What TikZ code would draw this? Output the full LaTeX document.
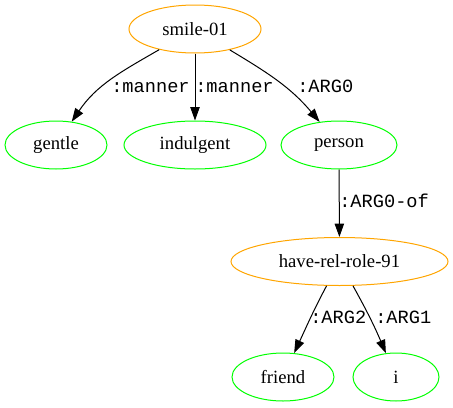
\documentclass[tikz,border=0pt]{standalone}
\usepackage{fontspec}
\setmainfont{Liberation Serif}
\setmonofont{Liberation Mono}
\usepackage{tikz}
\usetikzlibrary{arrows.meta,shapes.geometric}
\definecolor{amrorange}{HTML}{FFA500}
\definecolor{amrgreen}{HTML}{00FF00}

\begin{document}
\begin{tikzpicture}[x=0.75pt,y=0.75pt,
		concept/.style={draw=amrorange,ellipse,line width=0.75pt,inner sep=0pt,minimum height=36pt,font=\fontsize{14}{16}\selectfont},
		leaf/.style={concept,draw=amrgreen},
		role/.style={font=\ttfamily\fontsize{14}{16}\selectfont,inner sep=0pt,anchor=base west},
		edge/.style={-{Triangle[length=10pt,width=7pt]},line width=0.75pt}]
			\useasboundingbox (0,0) rectangle (453,-407);
			\node[concept,minimum width=99pt] (smile) at (195,-29) {smile-01};
			\node[leaf,minimum width=76.5pt] (gentle) at (56,-145) {gentle};
			\node[leaf,minimum width=106.5pt] (indulgent) at (195,-145) {indulgent};
			\node[leaf,minimum width=87pt] (person) at (339,-145) {person};
			\node[concept,minimum width=162.75pt] (have) at (339.5,-261.5) {have-rel-role-91};
			\node[leaf,minimum width=76.5pt] (friend) at (283,-377) {friend};
			\node[leaf,minimum width=64.5pt] (i) at (396,-377) {i};
			\draw[edge] (smile) to[out=210,in=56] (gentle);
			\draw[edge] (smile) -- (indulgent);
			\draw[edge] (smile) to[out=-31,in=130] (person);
			\draw[edge] (person) -- (have);
			\draw[edge] (have) to[out=242,in=65] (friend);
			\draw[edge] (have) to[out=-61,in=113] (i);
			\node[role] (manner1) at (111,-92) {:manner};
			\node[role] (manner2) at (195,-92) {:manner};
			\node[role] (arg0) at (297,-92) {:ARG0};
			\node[role] (arg0of) at (339,-207) {:ARG0-of};
			\node[role] (arg2) at (310,-323) {:ARG2};
			\node[role] (arg1) at (375,-323) {:ARG1};
		    \end{tikzpicture}
\end{document}
